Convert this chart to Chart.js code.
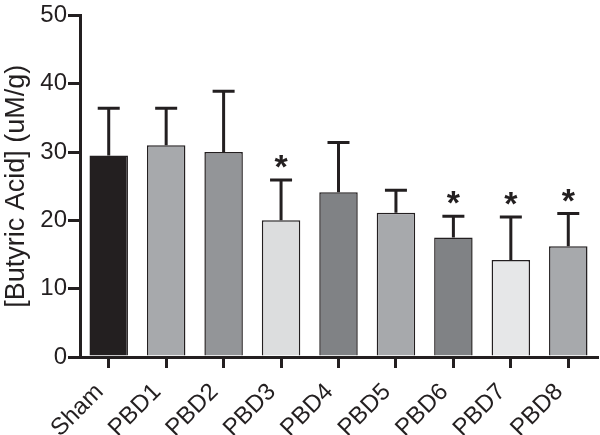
<!DOCTYPE html>
<html><head><meta charset="utf-8">
<script src="https://cdn.jsdelivr.net/npm/chart.js@4"></script>
<style>html,body{margin:0;padding:0;background:#fff}#wrap{width:600px;height:435px}</style>
</head><body><div id="wrap"><canvas id="c" width="600" height="435"></canvas></div>
<script>
const categories = ["Sham","PBD1","PBD2","PBD3","PBD4","PBD5","PBD6","PBD7","PBD8"];
const means = [29.5, 31.0, 30.0, 20.0, 24.1, 21.1, 17.5, 14.2, 16.2];
const errUpper = [36.4, 36.4, 38.9, 25.9, 31.4, 24.4, 20.6, 20.5, 21.0];
const significant = [false, false, false, true, false, false, true, true, true];
const yTicks = [0, 10, 20, 30, 40, 50];
const barColors = ["#231f20","#a7a9ac","#939598","#dcddde","#808285","#a7a9ac","#808285","#e6e7e8","#a7a9ac"];

const errPlugin = {
  id: 'errbars',
  afterDatasetsDraw(chart) {
    const ctx = chart.ctx, x = chart.scales.x, y = chart.scales.y;
    ctx.save();
    ctx.strokeStyle = '#231f20';
    ctx.fillStyle = '#231f20';
    ctx.lineWidth = 3;
    means.forEach((m, i) => {
      const cx = x.getPixelForValue(i);
      const y0 = y.getPixelForValue(m);
      const y1 = y.getPixelForValue(errUpper[i]);
      ctx.beginPath();
      ctx.moveTo(cx, y0); ctx.lineTo(cx, y1);
      ctx.moveTo(cx - 11, y1); ctx.lineTo(cx + 11, y1);
      ctx.stroke();
      if (significant[i]) {
        ctx.font = 'bold 34px "Liberation Sans"';
        ctx.textAlign = 'center';
        ctx.textBaseline = 'alphabetic';
        ctx.fillText('*', cx, y1 - 2);
      }
    });
    ctx.restore();
  }
};

new Chart(document.getElementById('c'), {
  type: 'bar',
  data: {
    labels: categories,
    datasets: [{
      data: means,
      backgroundColor: barColors,
      borderColor: '#231f20',
      borderWidth: 1.5,
      categoryPercentage: 1,
      barPercentage: 0.67
    }]
  },
  options: {
    responsive: false,
    animation: false,
    layout: { padding: { top: 15, right: 3, left: 0, bottom: 0 } },
    plugins: { legend: { display: false }, tooltip: { enabled: false } },
    scales: {
      x: {
        offset: true,
        border: { color: '#231f20', width: 3 },
        grid: { offset: false, drawOnChartArea: false, drawTicks: true, tickLength: 11, color: '#231f20', lineWidth: 3 },
        ticks: { color: '#231f20', font: { family: '"Liberation Sans"', size: 24 }, minRotation: 45, maxRotation: 45, padding: 10, labelOffset: -9, autoSkip: false },
        afterFit(s) { s.height = 78; }
      },
      y: {
        min: 0, max: 50,
        afterBuildTicks(s) { s.ticks = yTicks.map(v => ({ value: v })); },
        border: { color: '#231f20', width: 3 },
        grid: { drawOnChartArea: false, drawTicks: true, tickLength: 12, color: '#231f20', lineWidth: 3 },
        ticks: { color: '#231f20', font: { family: '"Liberation Sans"', size: 24 }, padding: 1 },
        title: { display: true, text: '[Butyric Acid] (uM/g)', color: '#231f20', font: { family: '"Liberation Sans"', size: 27 }, padding: 0 },
        afterFit(s) { s.width = 80; }
      }
    }
  },
  plugins: [errPlugin]
});
</script>
</body></html>
